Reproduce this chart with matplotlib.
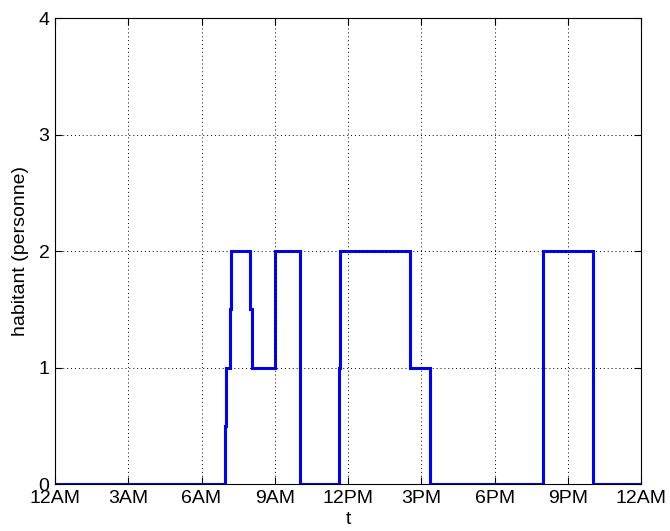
import matplotlib
matplotlib.use("Agg")
import matplotlib.pyplot as plt
import numpy as np

# occupancy steps: hour at which each level starts, and the level
t_start = [0.0, 6.96, 7.01, 7.16, 7.22, 7.99, 8.05, 9.0, 10.02, 11.64, 11.69, 14.52, 15.36, 19.98, 22.01]
level = [0, 0.5, 1, 1.5, 2, 1.5, 1, 2, 0, 1, 2, 1, 0, 2, 0]
t_end = 24.0

xticks = [0, 3, 6, 9, 12, 15, 18, 21, 24]
xticklabels = ["12AM", "3AM", "6AM", "9AM", "12PM", "3PM", "6PM", "9PM", "12AM"]
yticks = [0, 1, 2, 3, 4]

plt.rcParams["font.family"] = ["Liberation Sans", "DejaVu Sans"]

fig = plt.figure(figsize=(6.7, 5.31), dpi=100)
ax = fig.add_axes([0.082, 0.0885, 0.875, 0.8775])

edges = np.append(t_start, t_end)
ax.stairs(level, edges, color="#0000ff", lw=2.2, baseline=None)

ax.set_xlim(0, 24)
ax.set_ylim(0, 4)
ax.set_xticks(xticks)
ax.set_xticklabels(xticklabels)
ax.set_yticks(yticks)
ax.tick_params(direction="in", length=5, width=0.8, labelsize=14,
               top=True, right=True, pad=4)
ax.grid(True, color="black", ls=(0, (1, 3)), lw=0.7)
for s in ax.spines.values():
    s.set_linewidth(0.8)

ax.set_xlabel("t", fontsize=14, labelpad=3)
ax.set_ylabel("habitant (personne)", fontsize=14, labelpad=7)

fig.savefig("out.png", dpi=100)
